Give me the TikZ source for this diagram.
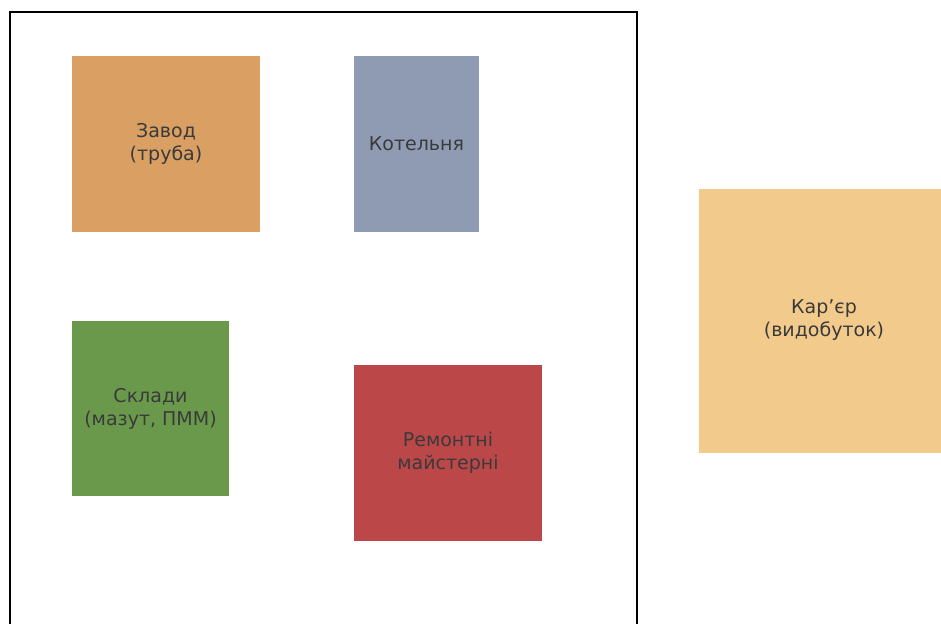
\documentclass[tikz,border=0pt]{standalone}
\usepackage{fontspec}
\setmainfont{DejaVu Sans}
\begin{document}
\begin{tikzpicture}[x=1pt,y=-1pt,
  zone/.style={draw=none,inner sep=0pt,align=center,text=txtgray,
    font=\fontsize{19}{23}\selectfont},
  frame/.style={draw=black,line width=2pt}]
\definecolor{txtgray}{HTML}{3A3A3A}
\definecolor{czavod}{HTML}{D99F63}
\definecolor{ckotel}{HTML}{8E9BB2}
\definecolor{csklad}{HTML}{6A994C}
\definecolor{cremont}{HTML}{BC4749}
\definecolor{ckarer}{HTML}{F2CA8C}
\useasboundingbox (0,0) rectangle (941,623);
\clip (0,0) rectangle (941,623);
\draw[frame] (9.5,12.5) rectangle (636.5,650);
\node[zone,fill=czavod,minimum width=188pt,minimum height=176pt] (zavod) at (166,144) {Завод\\(труба)};
\node[zone,fill=ckotel,minimum width=125pt,minimum height=176pt] (kotel) at (416.5,144) {Котельня};
\node[zone,fill=csklad,minimum width=157pt,minimum height=175pt] (sklad) at (150.5,408.5) {Склади\\(мазут, ПММ)};
\node[zone,fill=cremont,minimum width=188pt,minimum height=176pt] (remont) at (448,453) {Ремонтні\\майстерні};
\node[zone,fill=ckarer,minimum width=250pt,minimum height=264pt] (karer) at (824,320.5) {Кар’єр\\(видобуток)};
\end{tikzpicture}
\end{document}
